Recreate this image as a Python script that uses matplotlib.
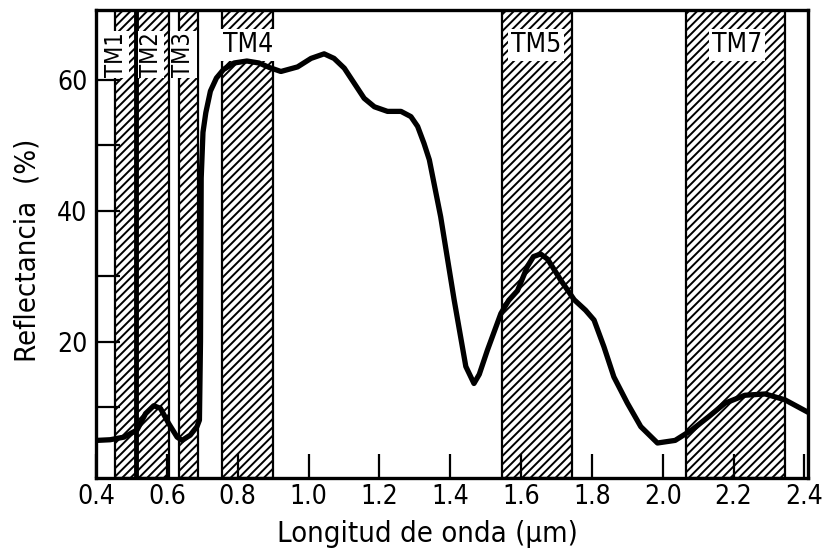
import matplotlib
matplotlib.use("Agg")
import matplotlib.pyplot as plt

# ---------------- data ----------------
wavelength = [0.403, 0.44, 0.479, 0.516, 0.54, 0.563, 0.582, 0.605, 0.629, 0.643,
              0.666, 0.685, 0.692, 0.695, 0.697, 0.702, 0.71, 0.723, 0.74, 0.76,
              0.79, 0.826, 0.86, 0.89, 0.922, 0.969, 1.007, 1.044, 1.072, 1.101,
              1.129, 1.157, 1.186, 1.223, 1.261, 1.289, 1.308, 1.326, 1.341, 1.373,
              1.411, 1.444, 1.467, 1.482, 1.505, 1.543, 1.565, 1.59, 1.618, 1.635,
              1.655, 1.675, 1.712, 1.75, 1.782, 1.806, 1.834, 1.862, 1.9, 1.938,
              1.985, 2.035, 2.082, 2.129, 2.176, 2.232, 2.289, 2.345, 2.41]
reflectance = [4.9, 5.0, 5.4, 6.5, 9.0, 10.2, 9.8, 7.5, 5.4, 4.9,
               5.7, 7.0, 8.0, 20.0, 45.0, 52.0, 55.0, 58.3, 60.3, 61.6,
               62.6, 62.9, 62.6, 61.9, 61.3, 62.0, 63.3, 64.0, 63.3, 61.8,
               59.5, 57.2, 55.9, 55.2, 55.2, 54.4, 52.9, 50.3, 47.8, 39.1,
               26.4, 16.2, 13.6, 15.0, 18.7, 24.3, 26.3, 27.8, 31.5, 33.0,
               33.4, 32.6, 29.4, 26.4, 24.8, 23.3, 19.2, 14.6, 10.6, 7.0,
               4.5, 4.9, 6.5, 8.5, 10.6, 11.8, 12.0, 11.1, 9.2]

band_names = ["TM1", "TM2", "TM3", "TM4", "TM5", "TM7"]
band_start = [0.455, 0.515, 0.633, 0.757, 1.545, 2.065]
band_end = [0.512, 0.605, 0.689, 0.900, 1.745, 2.345]
band_label_x = [0.457, 0.555, 0.647, 0.83, 1.643, 2.21]
band_label_vertical = [True, True, True, False, False, False]

x_ticks = [0.4, 0.6, 0.8, 1.0, 1.2, 1.4, 1.6, 1.8, 2.0, 2.2, 2.4]
x_tick_labels = ["0.4", "0.6", "0.8", "1.0", "1.2", "1.4", "1.6", "1.8", "2.0", "2.2", "2.4"]
y_ticks = [10, 20, 30, 40, 50, 60]
y_tick_labels = ["", "20", "", "40", "", "60"]

# ---------------- style ----------------
plt.rcParams['font.family'] = ['DejaVu Sans']
plt.rcParams['font.stretch'] = 'condensed'
plt.rcParams['hatch.linewidth'] = 1.4

fig = plt.figure(figsize=(8.22, 5.55), dpi=100)
ax = fig.add_axes([96 / 822, 77 / 555, 712 / 822, 468 / 555])

for s, e in zip(band_start, band_end):
    ax.axvspan(s, e, facecolor="white", edgecolor="black", hatch="////",
               linewidth=1.6, zorder=1)

# thick separator line between TM1 and TM2
ax.axvline(band_end[0], color="black", lw=3.5, zorder=2)

for name, lx, vert in zip(band_names, band_label_x, band_label_vertical):
    if vert:
        ax.text(lx, 0.905, name, rotation=90, ha="center", va="center",
                fontsize=17, fontstretch="condensed",
                transform=ax.get_xaxis_transform(), zorder=3,
                bbox=dict(facecolor="white", edgecolor="none", pad=0.8))
    else:
        ax.text(lx, 0.925, name, ha="center", va="center",
                fontsize=19, fontstretch="condensed",
                transform=ax.get_xaxis_transform(), zorder=3,
                bbox=dict(facecolor="white", edgecolor="none", pad=2.0))

ax.plot(wavelength, reflectance, color="black", lw=3.8, zorder=5,
        solid_joinstyle="round", solid_capstyle="round")

ax.set_xlim(0.403, 2.41)
ax.set_ylim(-0.85, 70.7)
ax.set_xticks(x_ticks)
ax.set_xticklabels(x_tick_labels)
ax.set_yticks(y_ticks)
ax.set_yticklabels(y_tick_labels)
ax.tick_params(axis="both", direction="in", length=17, width=1.6,
               labelsize=19, colors="black")
ax.tick_params(axis="x", pad=4)
ax.tick_params(axis="y", pad=6)
for sp in ax.spines.values():
    sp.set_linewidth(2.4)
    sp.set_zorder(6)

ax.set_xlabel("Longitud de onda (µm)", fontsize=21, labelpad=3)
ax.xaxis.set_label_coords(0.465, -0.09)
ax.set_ylabel("Reflectancia  (%)", fontsize=21, labelpad=8)
ax.yaxis.set_label_coords(-0.077, 0.487)

fig.savefig("out.png", dpi=100)
